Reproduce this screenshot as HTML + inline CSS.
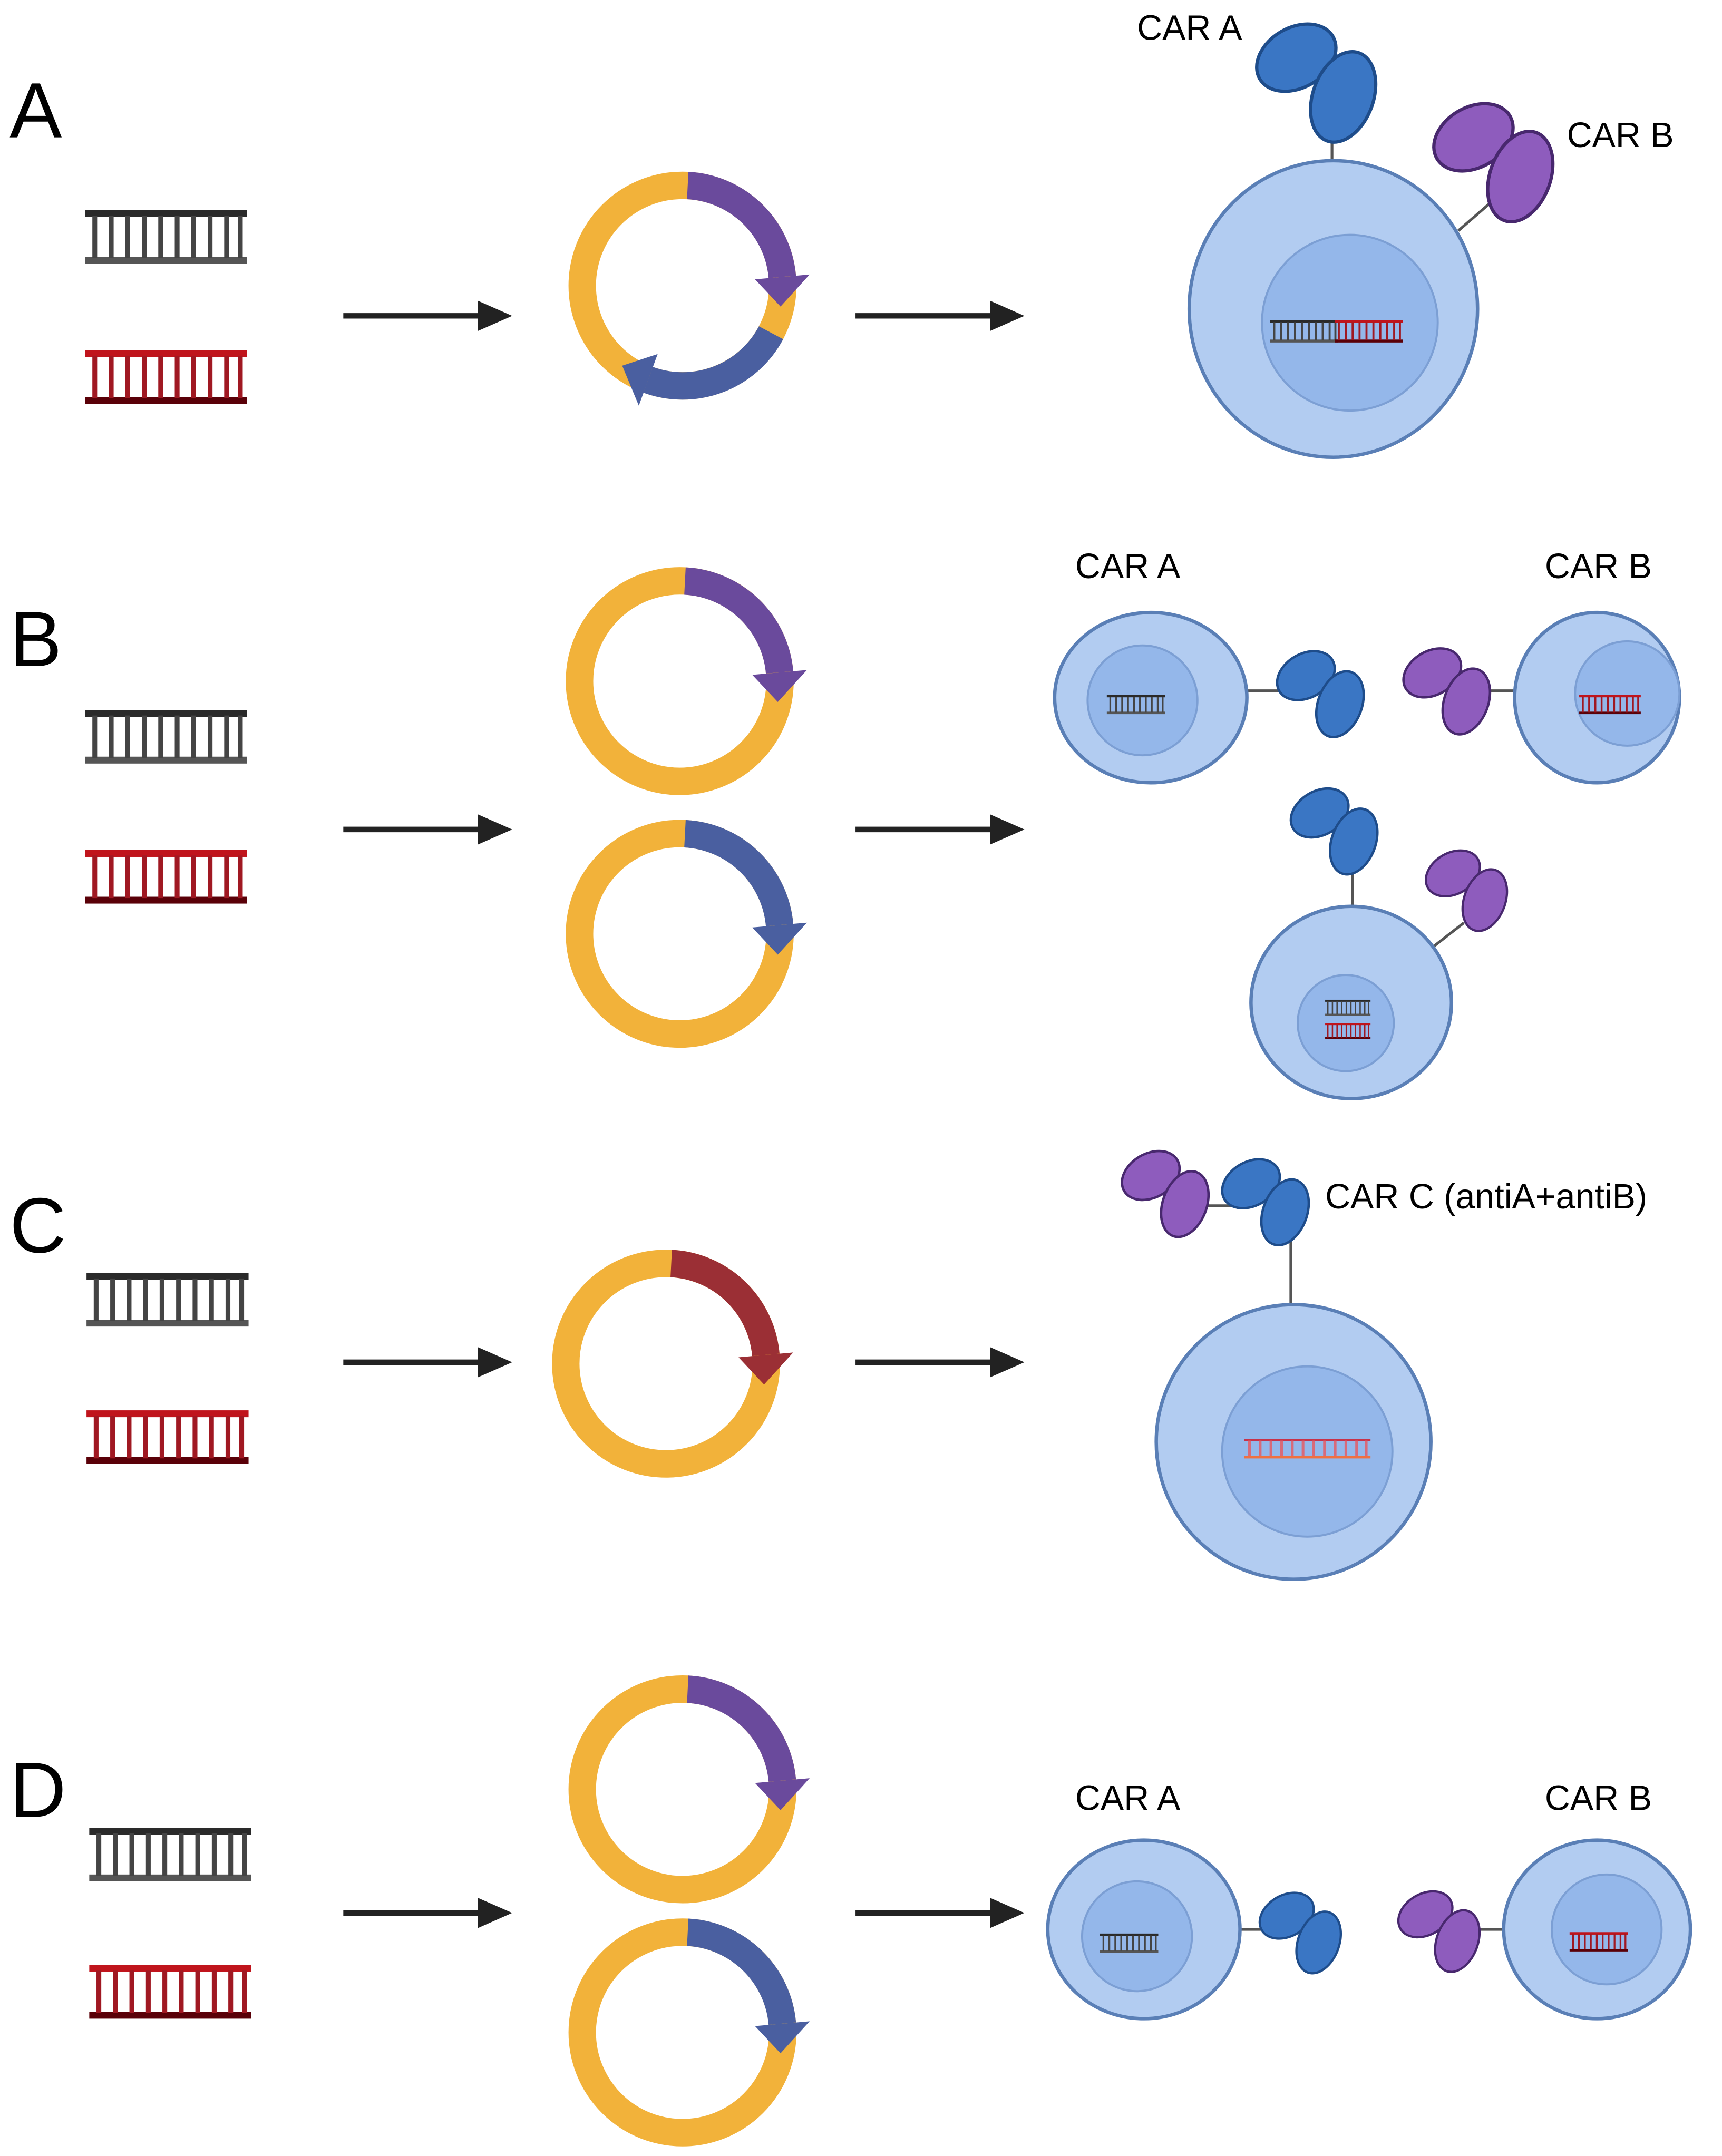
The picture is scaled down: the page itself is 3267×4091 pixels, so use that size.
<!DOCTYPE html>
<html><head><meta charset="utf-8"><style>html,body{margin:0;padding:0;background:#fff}svg{display:block}</style></head>
<body>
<svg width="3267" height="4091" viewBox="0 0 1254 1570" preserveAspectRatio="none" xmlns="http://www.w3.org/2000/svg" font-family="Liberation Sans, Arial, sans-serif">
<defs>
<g id="dnaK">
 <rect x="0" y="0" width="118" height="5" fill="#2a2a2a"/>
 <rect x="0" y="34" width="118" height="5" fill="#555"/>
 <g stroke="#444" stroke-width="3.5">
  <line x1="7" y1="4" x2="7" y2="35"/><line x1="19" y1="4" x2="19" y2="35"/><line x1="31" y1="4" x2="31" y2="35"/><line x1="43" y1="4" x2="43" y2="35"/><line x1="55" y1="4" x2="55" y2="35"/><line x1="67" y1="4" x2="67" y2="35"/><line x1="79" y1="4" x2="79" y2="35"/><line x1="91" y1="4" x2="91" y2="35"/><line x1="103" y1="4" x2="103" y2="35"/><line x1="113" y1="4" x2="113" y2="35"/>
 </g>
</g>
<g id="dnaR">
 <rect x="0" y="0" width="118" height="5" fill="#c0141c"/>
 <rect x="0" y="34" width="118" height="5" fill="#5a0008"/>
 <g stroke="#a01822" stroke-width="3.5">
  <line x1="7" y1="4" x2="7" y2="35"/><line x1="19" y1="4" x2="19" y2="35"/><line x1="31" y1="4" x2="31" y2="35"/><line x1="43" y1="4" x2="43" y2="35"/><line x1="55" y1="4" x2="55" y2="35"/><line x1="67" y1="4" x2="67" y2="35"/><line x1="79" y1="4" x2="79" y2="35"/><line x1="91" y1="4" x2="91" y2="35"/><line x1="103" y1="4" x2="103" y2="35"/><line x1="113" y1="4" x2="113" y2="35"/>
 </g>
</g>
<g id="arc1">
 <path d="M3.8 -72.9 A73 73 0 0 1 72.7 -6.4" fill="none" stroke="currentColor" stroke-width="20"/>
 <polygon points="52.8,-4.6 92.6,-8.1 71.4,15.2" fill="currentColor"/>
</g>
<g id="ring"><circle cx="0" cy="0" r="73" fill="none" stroke="#f2b23a" stroke-width="20"/></g>
<g id="abB"><ellipse cx="0" cy="0" rx="28" ry="20" transform="rotate(-30)" fill="#3a76c4" stroke="#1e4c8a" stroke-width="2.2"/><ellipse cx="31" cy="26" rx="20" ry="31" transform="rotate(20 31 26)" fill="#3a76c4" stroke="#1e4c8a" stroke-width="2.2"/></g>
<g id="abP"><ellipse cx="0" cy="0" rx="28" ry="20" transform="rotate(-30)" fill="#8e5cbd" stroke="#48286e" stroke-width="2.2"/><ellipse cx="31" cy="26" rx="20" ry="31" transform="rotate(20 31 26)" fill="#8e5cbd" stroke="#48286e" stroke-width="2.2"/></g>
<g id="arrow"><line x1="0" y1="0" x2="102" y2="0" stroke="#222" stroke-width="4"/><polygon points="98,-11 123,0 98,11" fill="#222"/></g>
</defs>

<g fill="#000">
<text x="7" y="100" font-size="57">A</text>
<text x="7" y="485" font-size="57">B</text>
<text x="7" y="912" font-size="57">C</text>
<text x="7" y="1323" font-size="57">D</text>
<text x="828" y="29" font-size="25.5">CAR A</text>
<text x="1141" y="107" font-size="25.5">CAR B</text>
<text x="783" y="421" font-size="25.5">CAR A</text>
<text x="1125" y="421" font-size="25.5">CAR B</text>
<text x="965" y="880" font-size="25.5">CAR C (antiA+antiB)</text>
<text x="783" y="1318" font-size="25.5">CAR A</text>
<text x="1125" y="1318" font-size="25.5">CAR B</text>
</g>

<use href="#dnaK" x="62" y="153"/><use href="#dnaR" x="62" y="255"/>
<use href="#dnaK" x="62" y="517"/><use href="#dnaR" x="62" y="619"/>
<use href="#dnaK" x="63" y="927"/><use href="#dnaR" x="63" y="1027"/>
<use href="#dnaK" x="65" y="1331"/><use href="#dnaR" x="65" y="1431"/>

<use href="#arrow" x="250" y="230"/><use href="#arrow" x="623" y="230"/>
<use href="#arrow" x="250" y="604"/><use href="#arrow" x="623" y="604"/>
<use href="#arrow" x="250" y="992"/><use href="#arrow" x="623" y="992"/>
<use href="#arrow" x="250" y="1393"/><use href="#arrow" x="623" y="1393"/>

<g transform="translate(497,208)"><use href="#ring"/><use href="#arc1" style="color:#6a4a9c"/>
 <path d="M64.5 34.3 A73 73 0 0 1 -25 68.6" fill="none" stroke="#4a5fa0" stroke-width="20"/>
 <polygon points="-18.1,49.8 -31.8,87.4 -43.9,58.3" fill="#4a5fa0"/></g>
<g transform="translate(495,496)"><use href="#ring"/><use href="#arc1" style="color:#6a4a9c"/></g>
<g transform="translate(495,680)"><use href="#ring"/><use href="#arc1" style="color:#4a5fa0"/></g>
<g transform="translate(485,993)"><use href="#ring"/><use href="#arc1" style="color:#9b2f35"/></g>
<g transform="translate(497,1303)"><use href="#ring"/><use href="#arc1" style="color:#6a4a9c"/></g>
<g transform="translate(497,1480)"><use href="#ring"/><use href="#arc1" style="color:#4a5fa0"/></g>

<g stroke="#555" stroke-width="2">
<line x1="970" y1="92" x2="970" y2="118"/>
<line x1="1085" y1="148" x2="1062" y2="168"/>
<line x1="907" y1="503" x2="935" y2="503"/>
<line x1="1080" y1="503" x2="1104" y2="503"/>
<line x1="985" y1="630" x2="985" y2="660"/>
<line x1="1066" y1="672" x2="1043" y2="690"/>
<line x1="862" y1="878" x2="897" y2="878"/>
<line x1="940" y1="898" x2="940" y2="950"/>
<line x1="902" y1="1405" x2="925" y2="1405"/>
<line x1="1070" y1="1405" x2="1096" y2="1405"/>
</g>

<g fill="#b2ccf1" stroke="#5a7fb6" stroke-width="2.5">
<ellipse cx="971" cy="225" rx="105" ry="108"/>
<ellipse cx="838" cy="508" rx="70" ry="62"/>
<ellipse cx="1163" cy="508" rx="60" ry="62"/>
<ellipse cx="984" cy="730" rx="73" ry="70"/>
<ellipse cx="942" cy="1050" rx="100" ry="100"/>
<ellipse cx="833" cy="1405" rx="70" ry="65"/>
<ellipse cx="1163" cy="1405" rx="68" ry="65"/>
</g>
<g fill="#94b7ea" stroke="#7c9fd4" stroke-width="1.5">
<circle cx="983" cy="235" r="64"/>
<circle cx="832" cy="510" r="40"/>
<circle cx="1185" cy="505" r="38"/>
<circle cx="980" cy="745" r="35"/>
<circle cx="952" cy="1057" r="62"/>
<circle cx="828" cy="1410" r="40"/>
<circle cx="1170" cy="1405" r="40"/>
</g>
<use href="#dnaK" transform="translate(925,233) scale(0.42,0.42)"/>
<use href="#dnaR" transform="translate(972,233) scale(0.42,0.42)"/>
<use href="#dnaK" transform="translate(806,506) scale(0.36,0.36)"/>
<use href="#dnaR" transform="translate(1150,506) scale(0.38,0.36)"/>
<use href="#dnaK" transform="translate(965,728) scale(0.28,0.3)"/>
<use href="#dnaR" transform="translate(965,745) scale(0.28,0.3)"/>
<g transform="translate(906,1048) scale(0.78,0.36)"><rect x="0" y="0" width="118" height="4" fill="#c8324a"/><g stroke="#d86a7a" stroke-width="2.5"><line x1="5" y1="3" x2="5" y2="35"/><line x1="15" y1="3" x2="15" y2="35"/><line x1="25" y1="3" x2="25" y2="35"/><line x1="35" y1="3" x2="35" y2="35"/><line x1="45" y1="3" x2="45" y2="35"/><line x1="55" y1="3" x2="55" y2="35"/><line x1="65" y1="3" x2="65" y2="35"/><line x1="75" y1="3" x2="75" y2="35"/><line x1="85" y1="3" x2="85" y2="35"/><line x1="95" y1="3" x2="95" y2="35"/><line x1="105" y1="3" x2="105" y2="35"/><line x1="114" y1="3" x2="114" y2="35"/></g><rect x="0" y="34" width="118" height="5" fill="#f07040"/></g>
<use href="#dnaK" transform="translate(801,1408) scale(0.36,0.36)"/>
<use href="#dnaR" transform="translate(1143,1407) scale(0.36,0.36)"/>

<use href="#abB" transform="translate(944,42) scale(1.1)"/>
<use href="#abP" transform="translate(1073,100) scale(1.1)"/>
<use href="#abB" transform="translate(951,492) scale(0.8)"/>
<use href="#abP" transform="translate(1043,490) scale(0.8)"/>
<use href="#abB" transform="translate(961,592) scale(0.8)"/>
<use href="#abP" transform="translate(1058,636) scale(0.75)"/>
<use href="#abP" transform="translate(838,856) scale(0.8)"/>
<use href="#abB" transform="translate(911,862) scale(0.8)"/>
<use href="#abB" transform="translate(937,1395) scale(0.75)"/>
<use href="#abP" transform="translate(1038,1394) scale(0.75)"/>
</svg>
</body></html>
